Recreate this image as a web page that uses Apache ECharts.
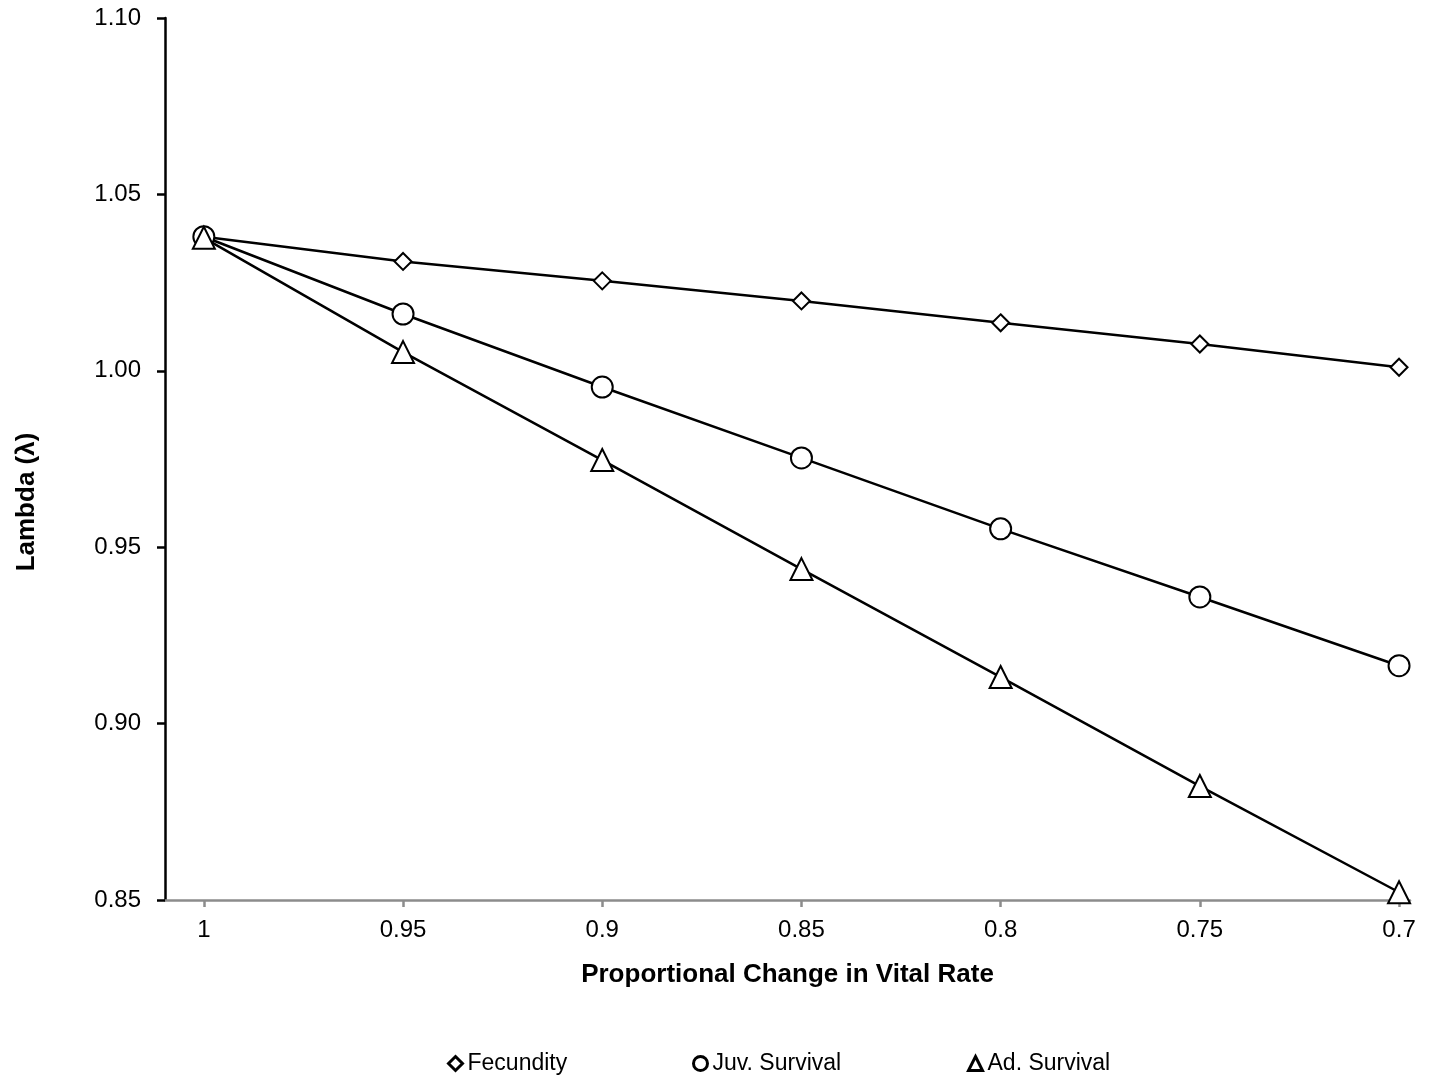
<!DOCTYPE html>
<html>
<head>
<meta charset="utf-8">
<script src="https://cdn.jsdelivr.net/npm/echarts@6/dist/echarts.min.js"></script>
<style>
  html, body { margin: 0; padding: 0; background: #fff; }
  #chart { width: 1429px; height: 1076px; }
</style>
</head>
<body>
<div id="chart"></div>
<script>
// proportional change in vital rate (x)
const rates = [1, 0.95, 0.9, 0.85, 0.8, 0.75, 0.7];
// lambda values
const fecundity = [1.038, 1.031, 1.0255, 1.0198, 1.0136, 1.0076, 1.001];
const juvSurvival = [1.038, 1.0161, 0.9954, 0.9753, 0.9552, 0.9359, 0.9164];
const adSurvival = [1.0377, 1.0053, 0.9747, 0.9438, 0.9132, 0.8823, 0.8522];

const font = "'Liberation Sans', Arial, sans-serif";

function pairs(vals) {
  return rates.map((r, i) => [r, vals[i]]);
}

function lineSeries(name, symbol, size, vals) {
  return {
    name: name,
    type: "line",
    data: pairs(vals),
    symbol: symbol,
    symbolSize: size,
    showAllSymbol: true,
    lineStyle: { color: "#000", width: 2.5 },
    itemStyle: { color: "#fff", borderColor: "#000", borderWidth: 2 },
    emphasis: { disabled: true },
    animation: false
  };
}

// one legend per entry so each can sit where the figure puts it
function legendAt(left, name, icon) {
  return {
    left: left,
    top: 1047,
    itemWidth: 14,
    itemHeight: 14,
    itemGap: 0,
    itemStyle: { borderWidth: 3 },
    textStyle: { fontFamily: font, fontSize: 23, color: "#000", padding: [0, 0, 0, 0] },
    data: [{ name: name, icon: icon }]
  };
}

const chart = echarts.init(document.getElementById("chart"));
const option = {
  backgroundColor: "#fff",
  grid: { left: 165, right: 19, top: 18, bottom: 176 },
  legend: [
    legendAt(442, "Fecundity", "diamond"),
    legendAt(687, "Juv. Survival", "circle"),
    legendAt(962, "Ad. Survival", "triangle")
  ],
  xAxis: {
    type: "value",
    inverse: true,
    min: 0.69725,
    max: 1.00975,
    splitLine: { show: false },
    axisLine: { lineStyle: { color: "#8c8c8c", width: 2.5 } },
    axisTick: { show: true, length: 7, lineStyle: { color: "#8c8c8c", width: 2.5 }, customValues: rates },
    axisLabel: {
      customValues: rates,
      margin: 18,
      fontFamily: font,
      fontSize: 24,
      color: "#000",
      formatter: (v) => String(+v.toFixed(2))
    },
    name: "Proportional Change in Vital Rate",
    nameLocation: "middle",
    nameGap: 62,
    nameTextStyle: { fontFamily: font, fontSize: 26, fontWeight: "bold", color: "#000" }
  },
  yAxis: {
    type: "value",
    min: 0.85,
    max: 1.1,
    interval: 0.05,
    splitLine: { show: false },
    axisLine: { show: true, lineStyle: { color: "#000", width: 2.5 } },
    axisTick: { show: true, length: 8, lineStyle: { color: "#000", width: 2.5 } },
    axisLabel: {
      margin: 24,
      fontFamily: font,
      fontSize: 24,
      color: "#000",
      formatter: (v) => v.toFixed(2)
    },
    name: "Lambda (λ)",
    nameLocation: "middle",
    nameGap: 125,
    nameTextStyle: { fontFamily: font, fontSize: 26, fontWeight: "bold", color: "#000", padding: [0, 86, 0, 0] }
  },
  series: [
    lineSeries("Fecundity", "diamond", 17, fecundity),
    lineSeries("Juv. Survival", "circle", 21, juvSurvival),
    lineSeries("Ad. Survival", "triangle", 22, adSurvival)
  ]
};
chart.setOption(option);
</script>
</body>
</html>
